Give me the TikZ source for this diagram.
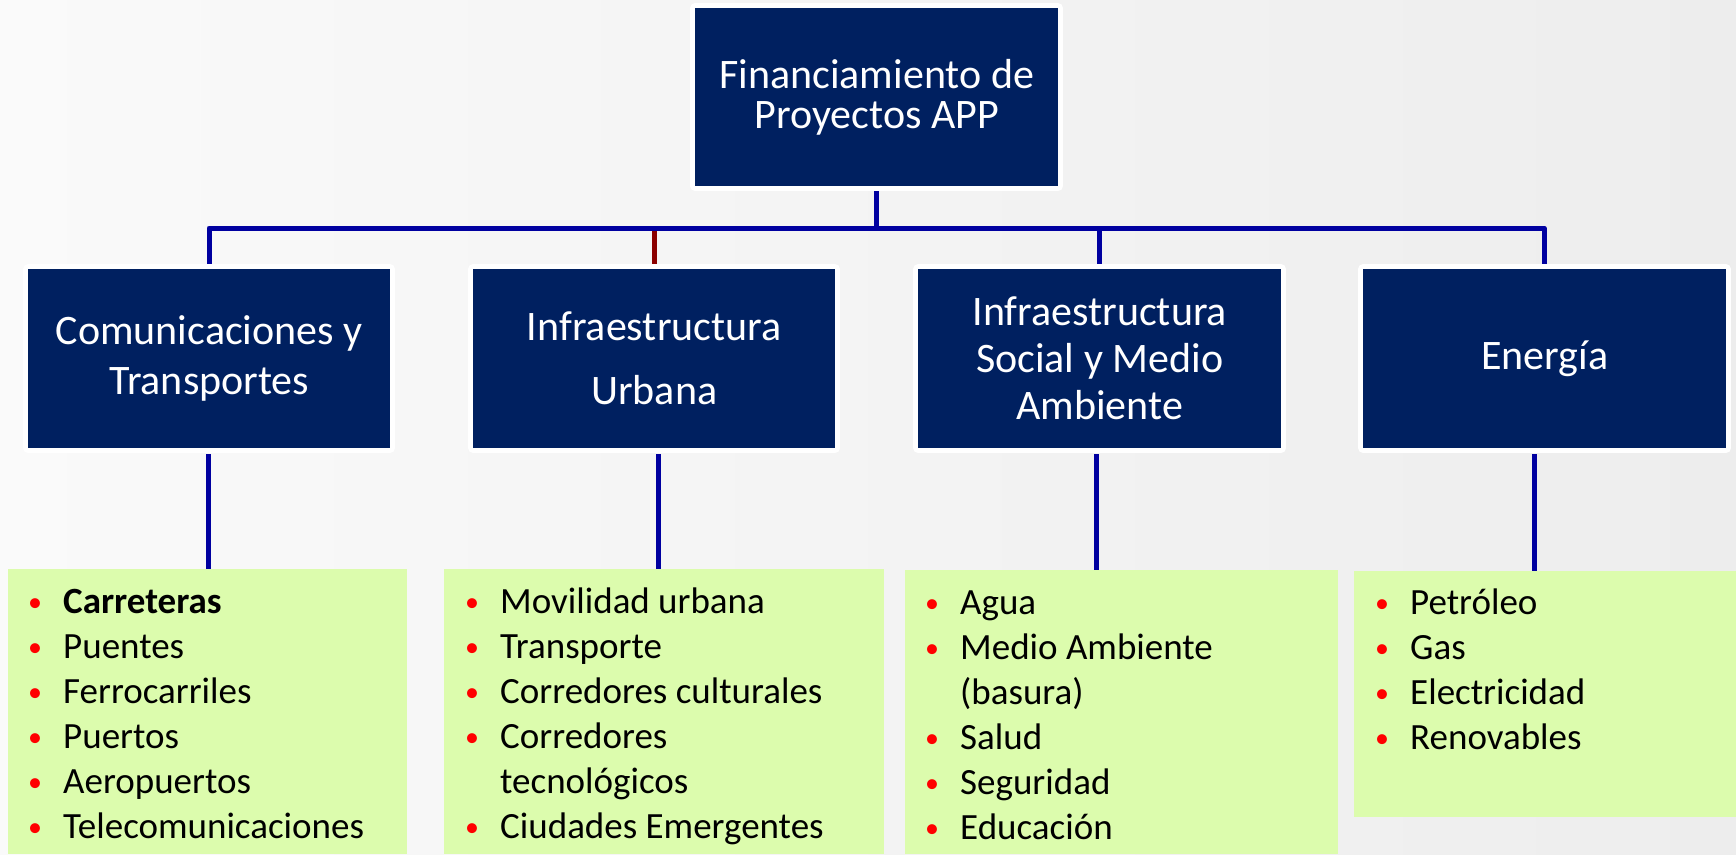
\documentclass[tikz,border=0pt]{standalone}
\usepackage{fontspec}
\setmainfont{Carlito}
\definecolor{navy}{HTML}{002060}
\definecolor{conn}{HTML}{0000A0}
\definecolor{redconn}{HTML}{8B0000}
\definecolor{lime}{HTML}{DCFCAD}
\definecolor{bulred}{HTML}{FF0000}
\definecolor{bgl}{HTML}{FAFAFA}
\definecolor{bgr}{HTML}{EDEDED}
\newcommand\bul{\makebox[36pt][l]{\hspace{1pt}\raisebox{2pt}{\textcolor{bulred}{\fontsize{28}{28}\selectfont •}}}}
\newcommand\cont{\hspace*{36pt}}
\begin{document}
\begin{tikzpicture}[x=1pt,y=-1pt,
  hbox/.style={rectangle, fill=navy, inner sep=0pt, text=white, align=center,
    minimum width=363pt, minimum height=179pt, anchor=north west,
    preaction={draw=white, line width=10pt, line join=round}},
  gbox/.style={rectangle, fill=lime, inner sep=0pt, anchor=north west},
  lst/.style={anchor=base west, inner sep=0pt},
  link/.style={draw=conn, line width=5pt, line join=round},
  redlink/.style={draw=redconn, line width=5pt}]
\useasboundingbox (0,0) rectangle (1736,854);
\shade[left color=bgl, right color=bgr] (0,0) rectangle (1736,854);

% green boxes
\node[gbox, minimum width=399pt, minimum height=285pt] (g1) at (8,569) {};
\node[gbox, minimum width=440pt, minimum height=285pt] (g2) at (444,569) {};
\node[gbox, minimum width=433pt, minimum height=284pt] (g3) at (905,570) {};
\node[gbox, minimum width=382pt, minimum height=246pt] (g4) at (1354,571) {};

% connector coordinates
\coordinate (bus) at (876.5,228);

% header nodes (positions)
\path (695,8) coordinate (ptop) (28,269) coordinate (p1) (473,269) coordinate (p2)
      (918,269) coordinate (p3) (1363,269) coordinate (p4);

% connectors (drawn before boxes)
\path (ptop) ++(181.5,178) coordinate (topS);
\draw[redlink] (p2) ++(181,0) coordinate (h2N) -- (h2N |- bus);
\draw[link] (topS) -- (bus);
\draw[link] ([xshift=181pt]p1) |- ([xshift=181pt]p4 |- bus) -- ([xshift=181pt]p4);
\draw[link] ([xshift=181.5pt]p3) -- ([xshift=181.5pt]p3 |- bus);

% header boxes
\node[hbox, minimum height=178pt, font=\fontsize{42}{40}\selectfont] (top) at (ptop)
  {Financiamiento de\\Proyectos APP};
\node[hbox, minimum width=362pt, font=\fontsize{42}{50}\selectfont] (h1) at (p1)
  {Comunicaciones y\\Transportes};
\node[hbox, minimum width=362pt, font=\fontsize{42}{64}\selectfont] (h2) at (p2)
  {Infraestructura\\Urbana};
\node[hbox, font=\fontsize{42}{47}\selectfont] (h3) at (p3)
  {Infraestructura\\Social y Medio\\Ambiente};
\node[hbox, font=\fontsize{42}{50}\selectfont] (h4) at (p4) {Energía};

% lower connectors
\draw[link] ([xshift=-1pt,yshift=-6pt]h1.south) -- ([xshift=-1pt]h1.south |- g1.north);
\draw[link] ([xshift=4pt,yshift=-6pt]h2.south) -- ([xshift=4pt]h2.south |- g2.north);
\draw[link] ([xshift=-3.5pt,yshift=-6pt]h3.south) -- ([xshift=-3.5pt]h3.south |- g3.north);
\draw[link] ([xshift=-10.5pt,yshift=-6pt]h4.south) -- ([xshift=-10.5pt]h4.south |- g4.north);

% lists
\node[lst] (l1) at (27,613) {\parbox[t]{380pt}{\fontsize{37}{45}\selectfont\raggedright
  \bul\textbf{Carreteras}\\
  \bul Puentes\\
  \bul Ferrocarriles\\
  \bul Puertos\\
  \bul Aeropuertos\\
  \bul Telecomunicaciones}};
\node[lst] (l2) at (464,613) {\parbox[t]{420pt}{\fontsize{37}{45}\selectfont\raggedright
  \bul Movilidad urbana\\
  \bul Transporte\\
  \bul Corredores culturales\\
  \bul Corredores\\
  \cont tecnológicos\\
  \bul Ciudades Emergentes}};
\node[lst] (l3) at (924,614) {\parbox[t]{410pt}{\fontsize{37}{45}\selectfont\raggedright
  \bul Agua\\
  \bul Medio Ambiente\\
  \cont (basura)\\
  \bul Salud\\
  \bul Seguridad\\
  \bul Educación}};
\node[lst] (l4) at (1374,614) {\parbox[t]{360pt}{\fontsize{37}{45}\selectfont\raggedright
  \bul Petróleo\\
  \bul Gas\\
  \bul Electricidad\\
  \bul Renovables}};
\end{tikzpicture}
\end{document}
